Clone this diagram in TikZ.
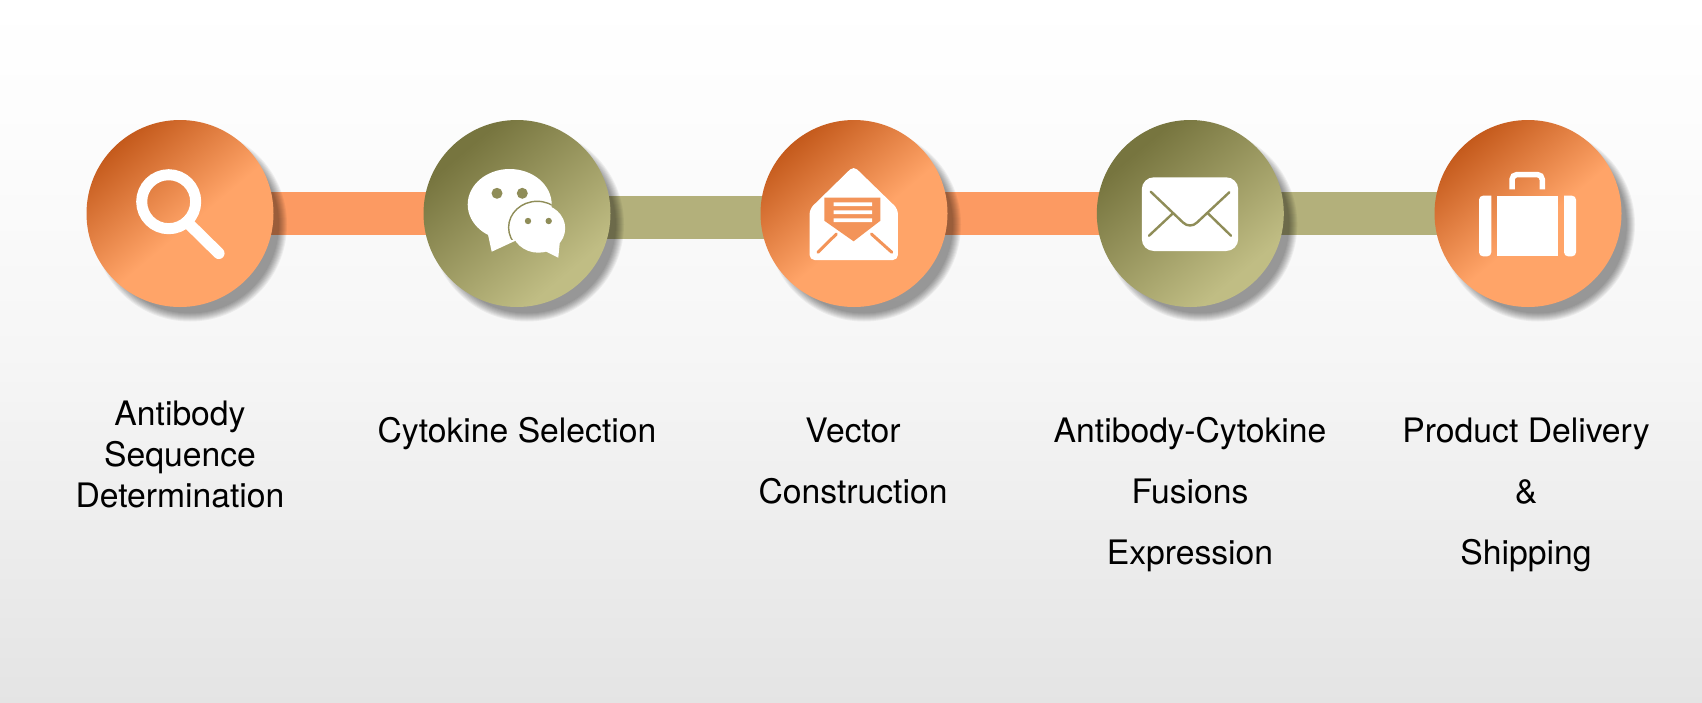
\documentclass[tikz,border=0pt]{standalone}
\usepackage{fontspec}
\setmainfont{TeX Gyre Heros}
\usetikzlibrary{backgrounds}
\definecolor{barorange}{HTML}{FC9A62}
\definecolor{barolive}{HTML}{B3B07B}
\definecolor{iconorange}{HTML}{F39459}
\definecolor{iconolive}{HTML}{8F8D58}
\pgfdeclareverticalshading{pagegrad}{100bp}{color(0bp)=(black!10.5);color(25bp)=(black!10.5);color(50bp)=(black!3.5);color(66bp)=(black!1);color(75bp)=(white);color(100bp)=(white)}
\definecolor{od}{HTML}{C45A1C}
\definecolor{ol}{HTML}{FFA468}
\definecolor{vd}{HTML}{77753F}
\definecolor{vl}{HTML}{C0BD84}
\pgfdeclareverticalshading{orangegrad}{100bp}{color(0bp)=(ol);color(46bp)=(ol);color(75bp)=(od);color(100bp)=(od)}
\pgfdeclareverticalshading{olivegrad}{100bp}{color(0bp)=(vl);color(29bp)=(vl);color(72bp)=(vd);color(100bp)=(vd)}
\tikzset{
  disc/.style={circle,minimum size=187pt,inner sep=0pt,shading angle=40},
  orangedisc/.style={disc,shading=orangegrad},
  olivedisc/.style={disc,shading=olivegrad},
  barline/.style={line width=43.7pt,line cap=butt},
  caption/.style={align=center,font=\fontsize{33.7}{61}\selectfont,text=black,inner sep=0pt},
  captiontight/.style={caption,font=\fontsize{33.7}{40.7}\selectfont},
  discshadow/.pic={
    \foreach \r in {89,90,...,97} \fill[black,opacity=0.05] (0pt,0pt) circle[radius=\r pt];
  }
}
\begin{document}
\begin{tikzpicture}[x=1pt,y=-1pt]
\useasboundingbox (0,0) rectangle (1702,702);
% discs
\node[orangedisc] (c1) at (180,213.5) {};
\node[olivedisc]  (c2) at (517,213.5) {};
\node[orangedisc] (c3) at (854,213.5) {};
\node[olivedisc]  (c4) at (1190.3,213.5) {};
\node[orangedisc] (c5) at (1528,213.5) {};
\begin{scope}[on background layer]
  \shade[shading=pagegrad] (0,0) rectangle (1702,702);
  \draw[barline,barorange] (c1.center) -- (c2.center);
  \draw[barline,barolive] ([yshift=-4pt]c2.center) -- ([yshift=-4pt]c3.center);
  \draw[barline,barorange] (c3.center) -- (c4.center);
  \draw[barline,barolive] (c4.center) -- (c5.center);
  \foreach \n in {c1,c2,c3,c4,c5}
    \pic at ([shift={(10pt,-11pt)}]\n.center) {discshadow};
\end{scope}
% magnifier
\draw[white,line width=11pt] (168.7,201.7) circle[radius=27pt];
\draw[white,line width=11.5pt,line cap=round] (187,222) -- (218.8,253.3);
% chat bubbles
\fill[white] (509.7,204.5) ellipse[x radius=42pt,y radius=35.5pt];
\fill[white] (487.9,234) -- (491.7,251.7) -- (517,240) -- cycle;
\fill[iconolive] (497,193.3) circle[radius=5.5pt] (522.3,193.3) circle[radius=5.5pt];
\begin{scope}
  \clip (509.7,204.5) ellipse[x radius=42pt,y radius=35.5pt];
  \draw[iconolive,line width=1.4pt] (537.2,227.5) ellipse[x radius=28.6pt,y radius=26.2pt];
\end{scope}
\fill[white] (538.4,228.3) ellipse[x radius=26.8pt,y radius=24.4pt];
\fill[white] (545,251) -- (558.3,257.7) -- (560,240) -- cycle;
\fill[iconolive] (528,221) circle[radius=3.2pt] (548.7,221) circle[radius=3.2pt];
% open envelope
\fill[white,rounded corners=5pt] (853.6,166) -- (897.9,209) -- (897.9,260) -- (809.6,260) -- (809.6,209) -- cycle;
\fill[iconorange] (824.3,197.7) -- (880.4,197.7) -- (880.4,220.7) -- (853.6,241.3) -- (824.3,220.7) -- cycle;
\fill[white] (833.6,202.4) rectangle (872.1,206)
             (833.6,210.4) rectangle (872.1,214)
             (833.6,218.4) rectangle (872.1,222);
\draw[iconorange,line width=3pt,line cap=round] (817.9,252.3) -- (836.4,234);
\draw[iconorange,line width=3pt,line cap=round] (871.4,234) -- (891.8,252.3);
% closed envelope
\fill[white,rounded corners=12pt] (1141.8,177.3) rectangle (1238.2,251);
\draw[iconolive,line width=2.4pt,line cap=round] (1150.7,191.7) -- (1183,222.5) .. controls (1187,226.5) and (1193,226.5) .. (1197,222.5) -- (1229.3,192.3);
\draw[iconolive,line width=2.4pt,line cap=round] (1149,235.7) -- (1172.9,213.3);
\draw[iconolive,line width=2.4pt,line cap=round] (1231,235.7) -- (1207.9,213.3);
% briefcase
\fill[white,rounded corners=4pt] (1491.3,195.7) -- (1479,195.7) -- (1479,256.3) -- (1491.3,256.3) [sharp corners] -- cycle;
\fill[white] (1497.3,195.7) rectangle (1558,256.3);
\fill[white,rounded corners=4pt] (1564,195.7) -- (1576,195.7) -- (1576,256.3) -- (1564,256.3) [sharp corners] -- cycle;
\draw[white,line width=5.5pt,rounded corners=5pt] (1512,189.3) -- (1512,174.5) -- (1542.3,174.5) -- (1542.3,189.3);
% captions
\node[captiontight] (t1) at (180,454.5) {Antibody\\Sequence\\Determination};
\node[caption] (t2) at (517,434) {Cytokine Selection};
\node[caption] (t3) at (853,461.5) {Vector\\Construction};
\node[caption] (t4) at (1190,494.5) {Antibody-Cytokine\\Fusions\\Expression};
\node[caption] (t5) at (1526,494.5) {Product Delivery\\\&\\Shipping};
\end{tikzpicture}
\end{document}
